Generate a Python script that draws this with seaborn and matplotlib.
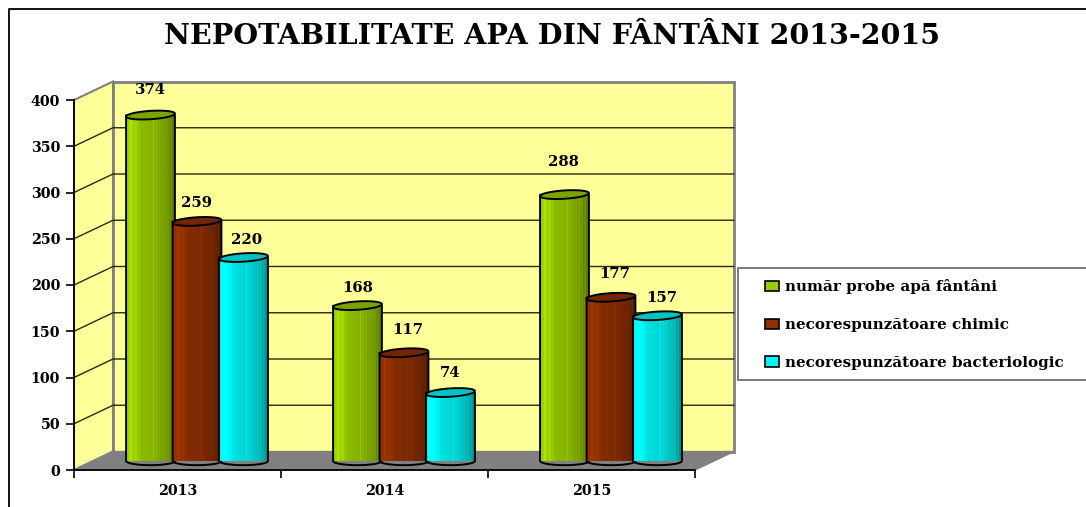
import numpy as np
import pandas as pd
import seaborn as sns
import matplotlib
matplotlib.use('Agg')
import matplotlib.pyplot as plt
from matplotlib.patches import Polygon, Rectangle
from matplotlib.lines import Line2D

# data
years = ['2013', '2014', '2015']
probe = [374, 168, 288]
chimic = [259, 117, 177]
bacterio = [220, 74, 157]
series_names = ['număr probe apă fântâni', 'necorespunzătoare chimic', 'necorespunzătoare bacteriologic']
series_colors = ['#99CC00', '#8F3000', '#00F4F4']
y_ticks = [0, 50, 100, 150, 200, 250, 300, 350, 400]

# label nudges from top of the bar, in pixels (same order as the patches: series by series)
label_dx = [0, 0, -1, -1, 4, 4, 3, 0, 4]
label_dy = [25, 18, 33, 18, 23, 23, 17, 20, 18]

W, H = 1086, 507

sns.set_theme(style='white')
# wide serif: the reference text is stretched sideways
plt.rcParams['font.family'] = ['DejaVu Serif', 'Liberation Serif']
plt.rcParams['font.weight'] = 'bold'

fig = plt.figure(figsize=(W / 100, H / 100), dpi=100)


def px_axes(left, right, top, bottom):
    return fig.add_axes([left / W, 1 - bottom / H, (right - left) / W, (bottom - top) / H])


# front plane holds the axes and the walls, bars sit half way into the depth
ax_front = px_axes(74, 695, 100, 470)
ax = px_axes(93.5, 714.5, 91, 461)

ax_front.set_xlim(-0.5, 2.5)
ax_front.set_ylim(0, 400)
depth_x = 39 / 207
depth_y = 20

xl, xr = -0.5, 2.5
wall_kw = dict(clip_on=False, joinstyle='miter')
ax_front.add_patch(Rectangle((xl + depth_x, depth_y), 3, 400, fc='#FFFF99', ec='#808080', lw=2, zorder=1, **wall_kw))
ax_front.add_patch(Polygon([(xl, 0), (xl + depth_x, depth_y), (xl + depth_x, 400 + depth_y), (xl, 400)],
                           fc='#FFFF99', ec='#808080', lw=1.5, zorder=1, **wall_kw))
ax_front.add_patch(Polygon([(xl, 0), (xr, 0), (xr + depth_x, depth_y), (xl + depth_x, depth_y)],
                           fc='#808080', ec='#808080', lw=1, zorder=2, **wall_kw))
for v in y_ticks[1:-1]:
    ax_front.plot([xl, xl + depth_x, xr + depth_x], [v, v + depth_y, v + depth_y],
                  color='#2A2A10', lw=1, zorder=2, clip_on=False)

ax_front.set_facecolor('none')
ax_front.set_yticks(y_ticks)
ax_front.set_xticks([-0.5, 0.5, 1.5, 2.5])
ax_front.set_xticklabels([])
ax_front.set_xticks([0, 1, 2], minor=True)
ax_front.set_xticklabels(years, minor=True)
ax_front.tick_params(axis='y', length=6, width=1.2, color='black', labelsize=10.3, pad=4, left=True)
ax_front.tick_params(axis='x', which='major', length=6, width=1.2, color='black', bottom=True)
ax_front.tick_params(axis='x', which='minor', length=0, labelsize=10.3, pad=10)
for lab in ax_front.get_yticklabels() + ax_front.get_xticklabels(minor=True):
    lab.set_fontweight('bold')
    lab.set_color('black')
for side in ['top', 'right']:
    ax_front.spines[side].set_visible(False)
for side in ['left', 'bottom']:
    ax_front.spines[side].set_color('black')
    ax_front.spines[side].set_linewidth(1.3)
    ax_front.spines[side].set_zorder(3)

# bars
df = pd.DataFrame({
    'year': years * 3,
    'serie': [n for n in series_names for _ in years],
    'val': probe + chimic + bacterio,
})
sns.barplot(data=df, x='year', y='val', hue='serie', hue_order=series_names, palette=series_colors,
            width=0.674, gap=0, saturation=1, linewidth=0, ax=ax)
ax.set_xlim(-0.5, 2.5)
ax.set_ylim(0, 400)
ax.set_facecolor('none')
ax.axis('off')

handles, labels = ax.get_legend_handles_labels()
ax.get_legend().remove()

# shading across a cylinder: bright left, dark right, with thin lighter stripes
shade_x = np.linspace(0, 1, 98)
shade = np.interp(shade_x, [0, 0.12, 0.3, 0.6, 0.85, 1], [1.02, 1.06, 0.92, 0.86, 0.72, 0.58])
for s in [0.1, 0.2, 0.26, 0.56, 0.62, 0.68, 0.74, 0.8, 0.86, 0.92]:
    shade[np.abs(shade_x - s) < 0.008] *= 1.14

ell_h = 4.5   # half height of the cap, value units
tilt = 1.6
t = np.linspace(0, 2 * np.pi, 80)
bars = [p for p in ax.patches if p.get_height() > 0]
for i, p in enumerate(bars):
    # bars of a later series lie over the earlier one next to them
    group = int(round(p.get_x() + p.get_width() / 2))
    z = 3 + i + group * 10
    p.set_zorder(z)
    w = p.get_width() * 0.525
    cx = p.get_x() + p.get_width() / 2
    v = p.get_height()
    col = np.array(matplotlib.colors.to_rgb(p.get_facecolor()))
    # body outline: down the left, round the bottom arc, up the right
    tb = np.linspace(np.pi, 2 * np.pi, 40)
    body = [(cx - w, v)] + [(cx + w * np.cos(a), ell_h * np.sin(a)) for a in tb] + [(cx + w, v)]
    img = np.clip(col[None, None, :] * shade[None, :, None], 0, 1)
    im = ax.imshow(img, extent=(cx - w, cx + w, -ell_h - 1, v + ell_h), aspect='auto', zorder=z, origin='lower',
                   interpolation='bilinear')
    clip_shape = Polygon(body, closed=True, fc='none', ec='none', transform=ax.transData)
    ax.add_patch(clip_shape)
    im.set_clip_path(clip_shape)
    ax.add_line(Line2D([q[0] for q in body], [q[1] for q in body], color='black', lw=1.4, zorder=z + 0.2, clip_on=False))
    ax.add_patch(Polygon(np.c_[cx + w * np.cos(t), v + ell_h * np.sin(t) + tilt * np.cos(t)], closed=True,
                         fc=col * 0.8, ec='black', lw=1.4, zorder=z + 0.3, clip_on=False))
    ax.annotate(str(int(v)), (cx, v), xytext=(label_dx[i], label_dy[i]), textcoords='offset pixels', ha='center',
                va='center', fontsize=10.7, fontweight='bold', color='black', zorder=60, annotation_clip=False)
ax.set_xlim(-0.5, 2.5)
ax.set_ylim(0, 400)

fig.text(551.5 / W, 1 - 37 / H, 'NEPOTABILITATE APA DIN FÂNTÂNI 2013-2015', ha='center', va='center',
         fontsize=20.5, fontweight='bold', color='black')

# legend box runs off the right edge of the picture, so it is drawn apart from the legend entries
fig.add_artist(Rectangle((738 / W, 1 - 380 / H), 400 / W, 112 / H, fc='white', ec='#707070', lw=1.3,
                         transform=fig.transFigure))
leg = fig.legend(handles, labels, loc='upper left', bbox_to_anchor=(765 / W, 1 - 279 / H),
                 frameon=False, handlelength=0.95, handleheight=0.65, handletextpad=0.35, labelspacing=1.58,
                 borderpad=0, borderaxespad=0, labelcolor='black',
                 prop={'family': 'DejaVu Serif', 'weight': 'bold', 'size': 10.9})
for h in leg.get_patches():
    h.set_edgecolor('black')
    h.set_linewidth(1.2)

# outer chart frame
fig.add_artist(Line2D([9 / W, 9 / W, 1], [0, 1 - 9 / H, 1 - 9 / H], color='black', lw=1.3, transform=fig.transFigure))

fig.savefig('out.png', dpi=100, facecolor='white')
